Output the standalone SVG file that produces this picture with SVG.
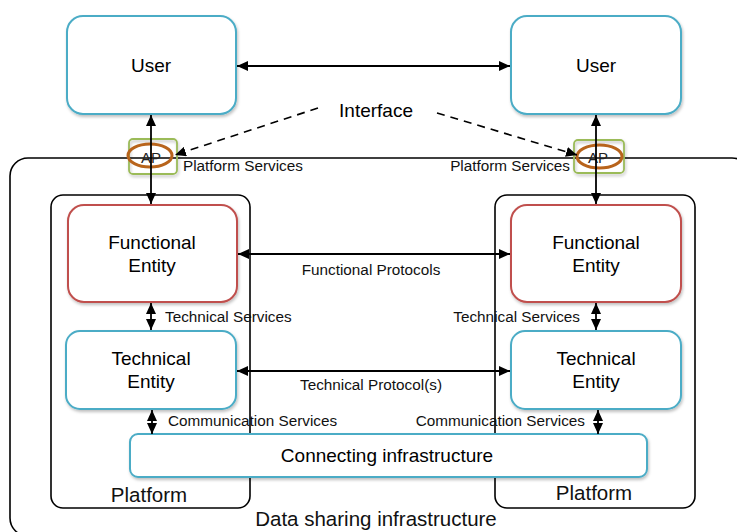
<svg xmlns="http://www.w3.org/2000/svg" width="737" height="532" viewBox="0 0 737 532">
<style>
.box{fill:#fff;stroke-width:2}
.blue{stroke:#4bacc6}
.red{stroke:#c0504d}
.frame{fill:none;stroke:#000;stroke-width:1.6}
.ap{fill:none;stroke:#9bbb59;stroke-width:1.8}
.ell{fill:none;stroke:#b8641c;stroke-width:3}
.lbl{font-family:"Liberation Sans",Arial,sans-serif;font-size:19px;fill:#000;text-anchor:middle}
.sm{font-family:"Liberation Sans",Arial,sans-serif;font-size:15.3px;fill:#111}
.mid{font-family:"Liberation Sans",Arial,sans-serif;font-size:20.5px;fill:#111;text-anchor:middle}
.line{stroke:#000;stroke-width:1.8;fill:none}
.dash{stroke:#000;stroke-width:1.6;fill:none;stroke-dasharray:8 6}
</style>
<defs>
<marker id="ah" markerUnits="userSpaceOnUse" markerWidth="12" markerHeight="10" refX="11" refY="5" orient="auto-start-reverse">
<path d="M0,0 L11,5 L0,10 z" fill="#000"/>
</marker>
<filter id="sh" x="-10%" y="-10%" width="125%" height="130%">
<feDropShadow dx="1" dy="2" stdDeviation="1.5" flood-color="#000" flood-opacity="0.25"/>
</filter>
</defs>

<g id="outer">
<rect class="frame" x="10" y="158" width="740" height="378" rx="18"/>
<text class="mid" x="376" y="526">Data sharing infrastructure</text>
</g>

<g id="platform-left">
<rect class="frame" x="51" y="195" width="199" height="313" rx="12"/>
<text class="mid" x="149" y="502">Platform</text>
</g>
<g id="platform-right">
<rect class="frame" x="495" y="195" width="200" height="313" rx="12"/>
<text class="mid" x="594" y="500">Platform</text>
</g>

<g id="user-left">
<rect class="box blue" x="67" y="16" width="169" height="98" rx="16" filter="url(#sh)"/>
<text class="lbl" x="151" y="72">User</text>
</g>
<g id="user-right">
<rect class="box blue" x="511" y="16" width="170" height="98" rx="16" filter="url(#sh)"/>
<text class="lbl" x="596" y="72">User</text>
</g>

<g id="ap-left">
<rect class="ap" x="129" y="139" width="48" height="35" rx="4" filter="url(#sh)"/>
<ellipse class="ell" cx="150" cy="155.5" rx="22" ry="11.5"/>
<text x="151" y="163" font-family="'Liberation Sans',Arial,sans-serif" font-size="15" fill="#222" text-anchor="middle">AP</text>
</g>
<g id="ap-right">
<rect class="ap" x="574" y="140" width="50" height="33" rx="4" filter="url(#sh)"/>
<ellipse class="ell" cx="599.5" cy="156.5" rx="22.5" ry="11.5"/>
<text x="598" y="163" font-family="'Liberation Sans',Arial,sans-serif" font-size="15" fill="#222" text-anchor="middle">AP</text>
</g>

<g id="functional-left">
<rect class="box red" x="68" y="205" width="169" height="97" rx="16" filter="url(#sh)"/>
<text class="lbl" x="152" y="249">Functional</text>
<text class="lbl" x="152" y="272">Entity</text>
</g>
<g id="functional-right">
<rect class="box red" x="511" y="205" width="170" height="97" rx="16" filter="url(#sh)"/>
<text class="lbl" x="596" y="249">Functional</text>
<text class="lbl" x="596" y="272">Entity</text>
</g>

<g id="technical-left">
<rect class="box blue" x="66" y="331" width="170" height="78" rx="14" filter="url(#sh)"/>
<text class="lbl" x="151" y="365">Technical</text>
<text class="lbl" x="151" y="388">Entity</text>
</g>
<g id="technical-right">
<rect class="box blue" x="511" y="331" width="170" height="78" rx="14" filter="url(#sh)"/>
<text class="lbl" x="596" y="365">Technical</text>
<text class="lbl" x="596" y="388">Entity</text>
</g>

<g id="connecting">
<rect class="box blue" x="130" y="434" width="517" height="43" rx="8" filter="url(#sh)"/>
<text class="lbl" x="387" y="462">Connecting infrastructure</text>
</g>

<g id="interface">
<text class="lbl" x="376" y="117" font-size="20.5">Interface</text>
</g>

<g id="connectors">
<line class="line" x1="237" y1="66" x2="510" y2="66" marker-start="url(#ah)" marker-end="url(#ah)"/>
<line class="line" x1="151" y1="115" x2="151" y2="204" marker-start="url(#ah)" marker-end="url(#ah)"/>
<line class="line" x1="596" y1="115" x2="596" y2="204" marker-start="url(#ah)" marker-end="url(#ah)"/>
<line class="dash" x1="318" y1="108" x2="175" y2="155" marker-end="url(#ah)"/>
<line class="dash" x1="437" y1="113" x2="577" y2="155" marker-end="url(#ah)"/>
<line class="line" x1="238" y1="254" x2="510" y2="254" marker-start="url(#ah)" marker-end="url(#ah)"/>
<line class="line" x1="237" y1="371" x2="510" y2="371" marker-start="url(#ah)" marker-end="url(#ah)"/>
<line class="line" x1="151" y1="303" x2="151" y2="330" marker-start="url(#ah)" marker-end="url(#ah)"/>
<line class="line" x1="596" y1="303" x2="596" y2="330" marker-start="url(#ah)" marker-end="url(#ah)"/>
<line class="line" x1="152" y1="410" x2="152" y2="434" marker-start="url(#ah)" marker-end="url(#ah)"/>
<line class="line" x1="598" y1="410" x2="598" y2="434" marker-start="url(#ah)" marker-end="url(#ah)"/>
<text class="sm" x="183" y="171">Platform Services</text>
<text class="sm" x="570" y="171" text-anchor="end">Platform Services</text>
<text class="sm" x="371" y="275" text-anchor="middle">Functional Protocols</text>
<text class="sm" x="371" y="390" text-anchor="middle">Technical Protocol(s)</text>
<text class="sm" x="165" y="322">Technical Services</text>
<text class="sm" x="580" y="322" text-anchor="end">Technical Services</text>
<text class="sm" x="168" y="426">Communication Services</text>
<text class="sm" x="585" y="426" text-anchor="end">Communication Services</text>
</g>
</svg>
